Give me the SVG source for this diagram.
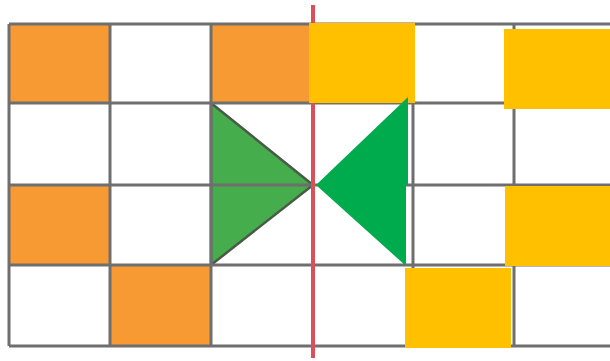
<svg xmlns="http://www.w3.org/2000/svg" width="610" height="361" viewBox="0 0 610 361">
<style>
.orange{fill:#f89a33}
.yellow{fill:#ffc000}
.grid{stroke:#6f6f6f;stroke-width:3;fill:none}
</style>
<rect width="610" height="361" fill="#ffffff"/>
<g id="orange-cells">
<rect class="orange" x="9" y="24" width="101" height="79"/>
<rect class="orange" x="211" y="24" width="102" height="79"/>
<rect class="orange" x="9" y="185" width="101" height="80"/>
<rect class="orange" x="110" y="265" width="101" height="81"/>
</g>
<g id="left-triangle">
<polygon points="211,103 313,185 211,265" fill="#45ad4b" stroke="#4a5a48" stroke-width="2.5" stroke-linejoin="round"/>
</g>
<g id="grid" class="grid">
<path d="M9,24 H610 M9,103 H610 M9,185 H610 M9,265 H610 M9,346 H610"/>
<path d="M9,24 V346 M110,24 V346 M211,24 V346 M413,24 V346 M514,24 V346"/>
</g>
<g id="axis">
<line x1="313" y1="5" x2="313" y2="358" stroke="#d9505a" stroke-width="4"/>
</g>
<g id="yellow-cells">
<rect class="yellow" x="309" y="23" width="106" height="80"/>
<rect class="yellow" x="504" y="29" width="106" height="80"/>
<rect class="yellow" x="505" y="186" width="105" height="80"/>
<rect class="yellow" x="405" y="268" width="106" height="80"/>
</g>
<g id="right-triangle">
<polygon points="316,185 408,97 408,185 406,185 406,266" fill="#00ab4e"/>
</g>
</svg>
